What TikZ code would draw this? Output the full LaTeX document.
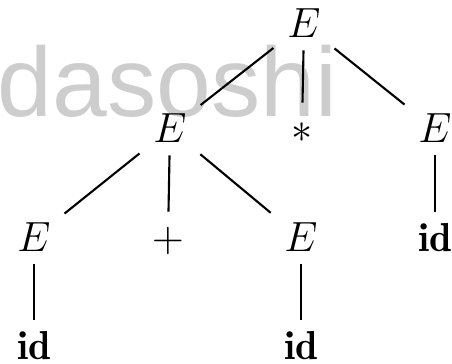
\documentclass[tikz,border=0pt]{standalone}
\usepackage{fontspec}
\usepackage{amsmath}
\newfontfamily\wmfont{Liberation Sans}
\definecolor{wmgray}{RGB}{205,205,205}

\begin{document}
\begin{tikzpicture}[
    x=0.01cm, y=-0.01cm,
    sym/.style={font=\fontsize{11.5}{14}\selectfont, text height=7.8pt, text depth=0pt, inner sep=0pt},
    edge/.style={draw=black, line width=0.6pt, shorten <=0.17cm, shorten >=0.17cm},
    stem/.style={draw=black, line width=0.6pt, shorten <=0.12cm, shorten >=0.12cm},
    watermark/.style={font=\wmfont\fontsize{28}{33}\selectfont, text=wmgray, inner sep=0pt, anchor=base west}
]
\useasboundingbox (0,0) rectangle (452,363);

% Watermark behind the tree
\node[watermark] (wm) at (-3,116) {dasoshi};

% Root
\node[sym] (eRoot) at (304,24) {$E$};

% Second level: E * E
\node[sym] (eSum) at (170,129) {$E$};
\node[sym] (opMul) at (302,129) {$*$};
\node[sym] (eRight) at (435,129) {$E$};

% Third level: E + E id
\node[sym] (eLeft) at (34,238) {$E$};
\node[sym] (opAdd) at (168,238) {$+$};
\node[sym] (eMid) at (301,238) {$E$};
\node[sym] (idRight) at (435,238) {$\mathbf{id}$};

% Leaves
\node[sym] (idLeft) at (34,346) {$\mathbf{id}$};
\node[sym] (idMid) at (301,346) {$\mathbf{id}$};

% Edges
\draw[edge] (eRoot) -- (eSum);
\draw[stem] (eRoot) -- (opMul);
\draw[edge] (eRoot) -- (eRight);
\draw[edge] (eSum) -- (eLeft);
\draw[stem] (eSum) -- (opAdd);
\draw[edge] (eSum) -- (eMid);
\draw[stem] (eRight) -- (idRight);
\draw[stem] (eLeft) -- (idLeft);
\draw[stem] (eMid) -- (idMid);
\end{tikzpicture}
\end{document}
